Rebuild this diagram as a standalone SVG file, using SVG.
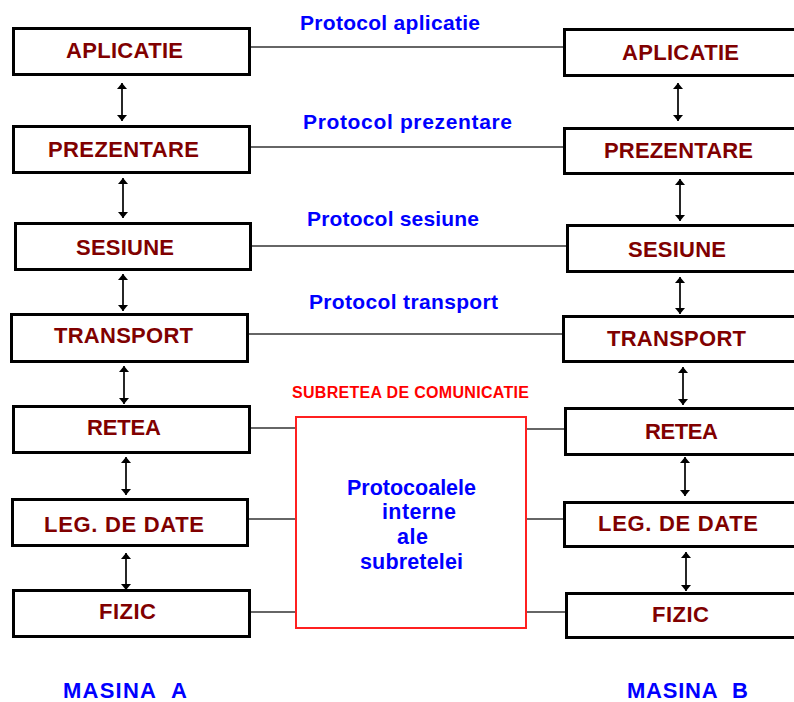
<svg xmlns="http://www.w3.org/2000/svg" width="794" height="702" viewBox="0 0 794 702">
  <style>
    .box { fill: #ffffff; stroke: #000000; stroke-width: 3; }
    .lbl { font-family: "Liberation Sans", Arial, sans-serif; font-weight: bold; font-size: 22px; fill: #800000; }
    .proto { font-family: "Liberation Sans", Arial, sans-serif; font-weight: bold; font-size: 21px; fill: #0000ff; }
    .inner { font-family: "Liberation Sans", Arial, sans-serif; font-weight: bold; font-size: 21.5px; fill: #0000ff; }
    .net { font-family: "Liberation Sans", Arial, sans-serif; font-weight: bold; font-size: 16px; fill: #ff0000; }
    .host { font-family: "Liberation Sans", Arial, sans-serif; font-weight: bold; font-size: 22px; fill: #0000ff; }
    .link { stroke: #333333; stroke-width: 1.6; fill: none; }
    .arr { stroke: #000000; stroke-width: 1.7; fill: none; marker-start: url(#head); marker-end: url(#head); }
  </style>
  <defs>
    <marker id="head" markerUnits="userSpaceOnUse" markerWidth="6" markerHeight="10" viewBox="0 0 6 10" refX="6" refY="5" orient="auto-start-reverse">
      <path d="M0,0 L6,5 L0,10 z" fill="#000000"/>
    </marker>
  </defs>

  <rect width="794" height="702" fill="#ffffff"/>

  <!-- connectors -->
  <g id="connectors">
    <!-- peer protocol lines -->
    <line class="link" x1="251" y1="47" x2="563" y2="47"/>
    <line class="link" x1="251" y1="147" x2="563" y2="147"/>
    <line class="link" x1="252" y1="246" x2="566" y2="246"/>
    <line class="link" x1="249" y1="334" x2="562" y2="334"/>
    <!-- lower layers to the subnet -->
    <line class="link" x1="251" y1="428" x2="295" y2="428"/>
    <line class="link" x1="249" y1="519" x2="295" y2="519"/>
    <line class="link" x1="251" y1="612" x2="295" y2="612"/>
    <line class="link" x1="527" y1="429" x2="564" y2="429"/>
    <line class="link" x1="527" y1="519" x2="563" y2="519"/>
    <line class="link" x1="527" y1="612" x2="565" y2="612"/>
    <!-- vertical layer arrows, host A -->
    <line class="arr" x1="122" y1="83" x2="122" y2="121"/>
    <line class="arr" x1="123" y1="178" x2="123" y2="218"/>
    <line class="arr" x1="123" y1="274" x2="123" y2="311"/>
    <line class="arr" x1="124" y1="366" x2="124" y2="404"/>
    <line class="arr" x1="126" y1="457" x2="126" y2="495"/>
    <line class="arr" x1="126" y1="553" x2="126" y2="590"/>
    <!-- vertical layer arrows, host B -->
    <line class="arr" x1="678" y1="83" x2="678" y2="121"/>
    <line class="arr" x1="680" y1="179" x2="680" y2="221"/>
    <line class="arr" x1="680" y1="277" x2="680" y2="314"/>
    <line class="arr" x1="683" y1="367" x2="683" y2="405"/>
    <line class="arr" x1="685" y1="457" x2="685" y2="496"/>
    <line class="arr" x1="686" y1="552" x2="686" y2="591"/>
  </g>

  <!-- protocol labels -->
  <text class="proto" x="300" y="30" textLength="180">Protocol aplicatie</text>
  <text class="proto" x="303" y="129" textLength="209">Protocol prezentare</text>
  <text class="proto" x="307" y="226" textLength="172">Protocol sesiune</text>
  <text class="proto" x="309" y="309" textLength="189">Protocol transport</text>

  <!-- host A layers -->
  <g id="a-aplicatie"><rect class="box" x="13.5" y="28.5" width="236" height="46"/><text class="lbl" x="66" y="58" textLength="117">APLICATIE</text></g>
  <g id="a-prezentare"><rect class="box" x="13.5" y="126.5" width="236" height="46"/><text class="lbl" x="48" y="157" textLength="151">PREZENTARE</text></g>
  <g id="a-sesiune"><rect class="box" x="15.5" y="223.5" width="235" height="46"/><text class="lbl" x="76" y="255" textLength="98">SESIUNE</text></g>
  <g id="a-transport"><rect class="box" x="11.5" y="314.5" width="236" height="47"/><text class="lbl" x="54" y="343" textLength="139">TRANSPORT</text></g>
  <g id="a-retea"><rect class="box" x="13.5" y="406.5" width="236" height="46"/><text class="lbl" x="87" y="435" textLength="74">RETEA</text></g>
  <g id="a-legatura"><rect class="box" x="12.5" y="499.5" width="235" height="46"/><text class="lbl" x="44" y="532" textLength="160">LEG. DE DATE</text></g>
  <g id="a-fizic"><rect class="box" x="13.5" y="590.5" width="236" height="46"/><text class="lbl" x="99" y="619" textLength="57">FIZIC</text></g>

  <!-- host B layers -->
  <g id="b-aplicatie"><rect class="box" x="564.5" y="29.5" width="240" height="46"/><text class="lbl" x="622" y="60" textLength="117">APLICATIE</text></g>
  <g id="b-prezentare"><rect class="box" x="564.5" y="128.5" width="240" height="45"/><text class="lbl" x="604" y="158" textLength="149">PREZENTARE</text></g>
  <g id="b-sesiune"><rect class="box" x="567.5" y="225.5" width="240" height="46"/><text class="lbl" x="628" y="257" textLength="98">SESIUNE</text></g>
  <g id="b-transport"><rect class="box" x="563.5" y="316.5" width="240" height="45"/><text class="lbl" x="607" y="346" textLength="139">TRANSPORT</text></g>
  <g id="b-retea"><rect class="box" x="565.5" y="408.5" width="240" height="46"/><text class="lbl" x="645" y="439" textLength="73">RETEA</text></g>
  <g id="b-legatura"><rect class="box" x="564.5" y="502.5" width="240" height="44"/><text class="lbl" x="598" y="531" textLength="160">LEG. DE DATE</text></g>
  <g id="b-fizic"><rect class="box" x="566.5" y="593.5" width="240" height="44"/><text class="lbl" x="652" y="622" textLength="57">FIZIC</text></g>

  <!-- communication subnet -->
  <g id="subretea">
    <text class="net" x="292" y="398" textLength="237">SUBRETEA DE COMUNICATIE</text>
    <rect x="296" y="417" width="230" height="211" fill="#ffffff" stroke="#ff2020" stroke-width="2"/>
    <text class="inner" x="347" y="495" textLength="129">Protocoalele</text>
    <text class="inner" x="382" y="519" textLength="74">interne</text>
    <text class="inner" x="397" y="544" textLength="31">ale</text>
    <text class="inner" x="360" y="569" textLength="103">subretelei</text>
  </g>

  <!-- host captions -->
  <text class="host" x="63" y="698" textLength="124">MASINA&#160; A</text>
  <text class="host" x="627" y="698" textLength="121">MASINA&#160; B</text>
</svg>
